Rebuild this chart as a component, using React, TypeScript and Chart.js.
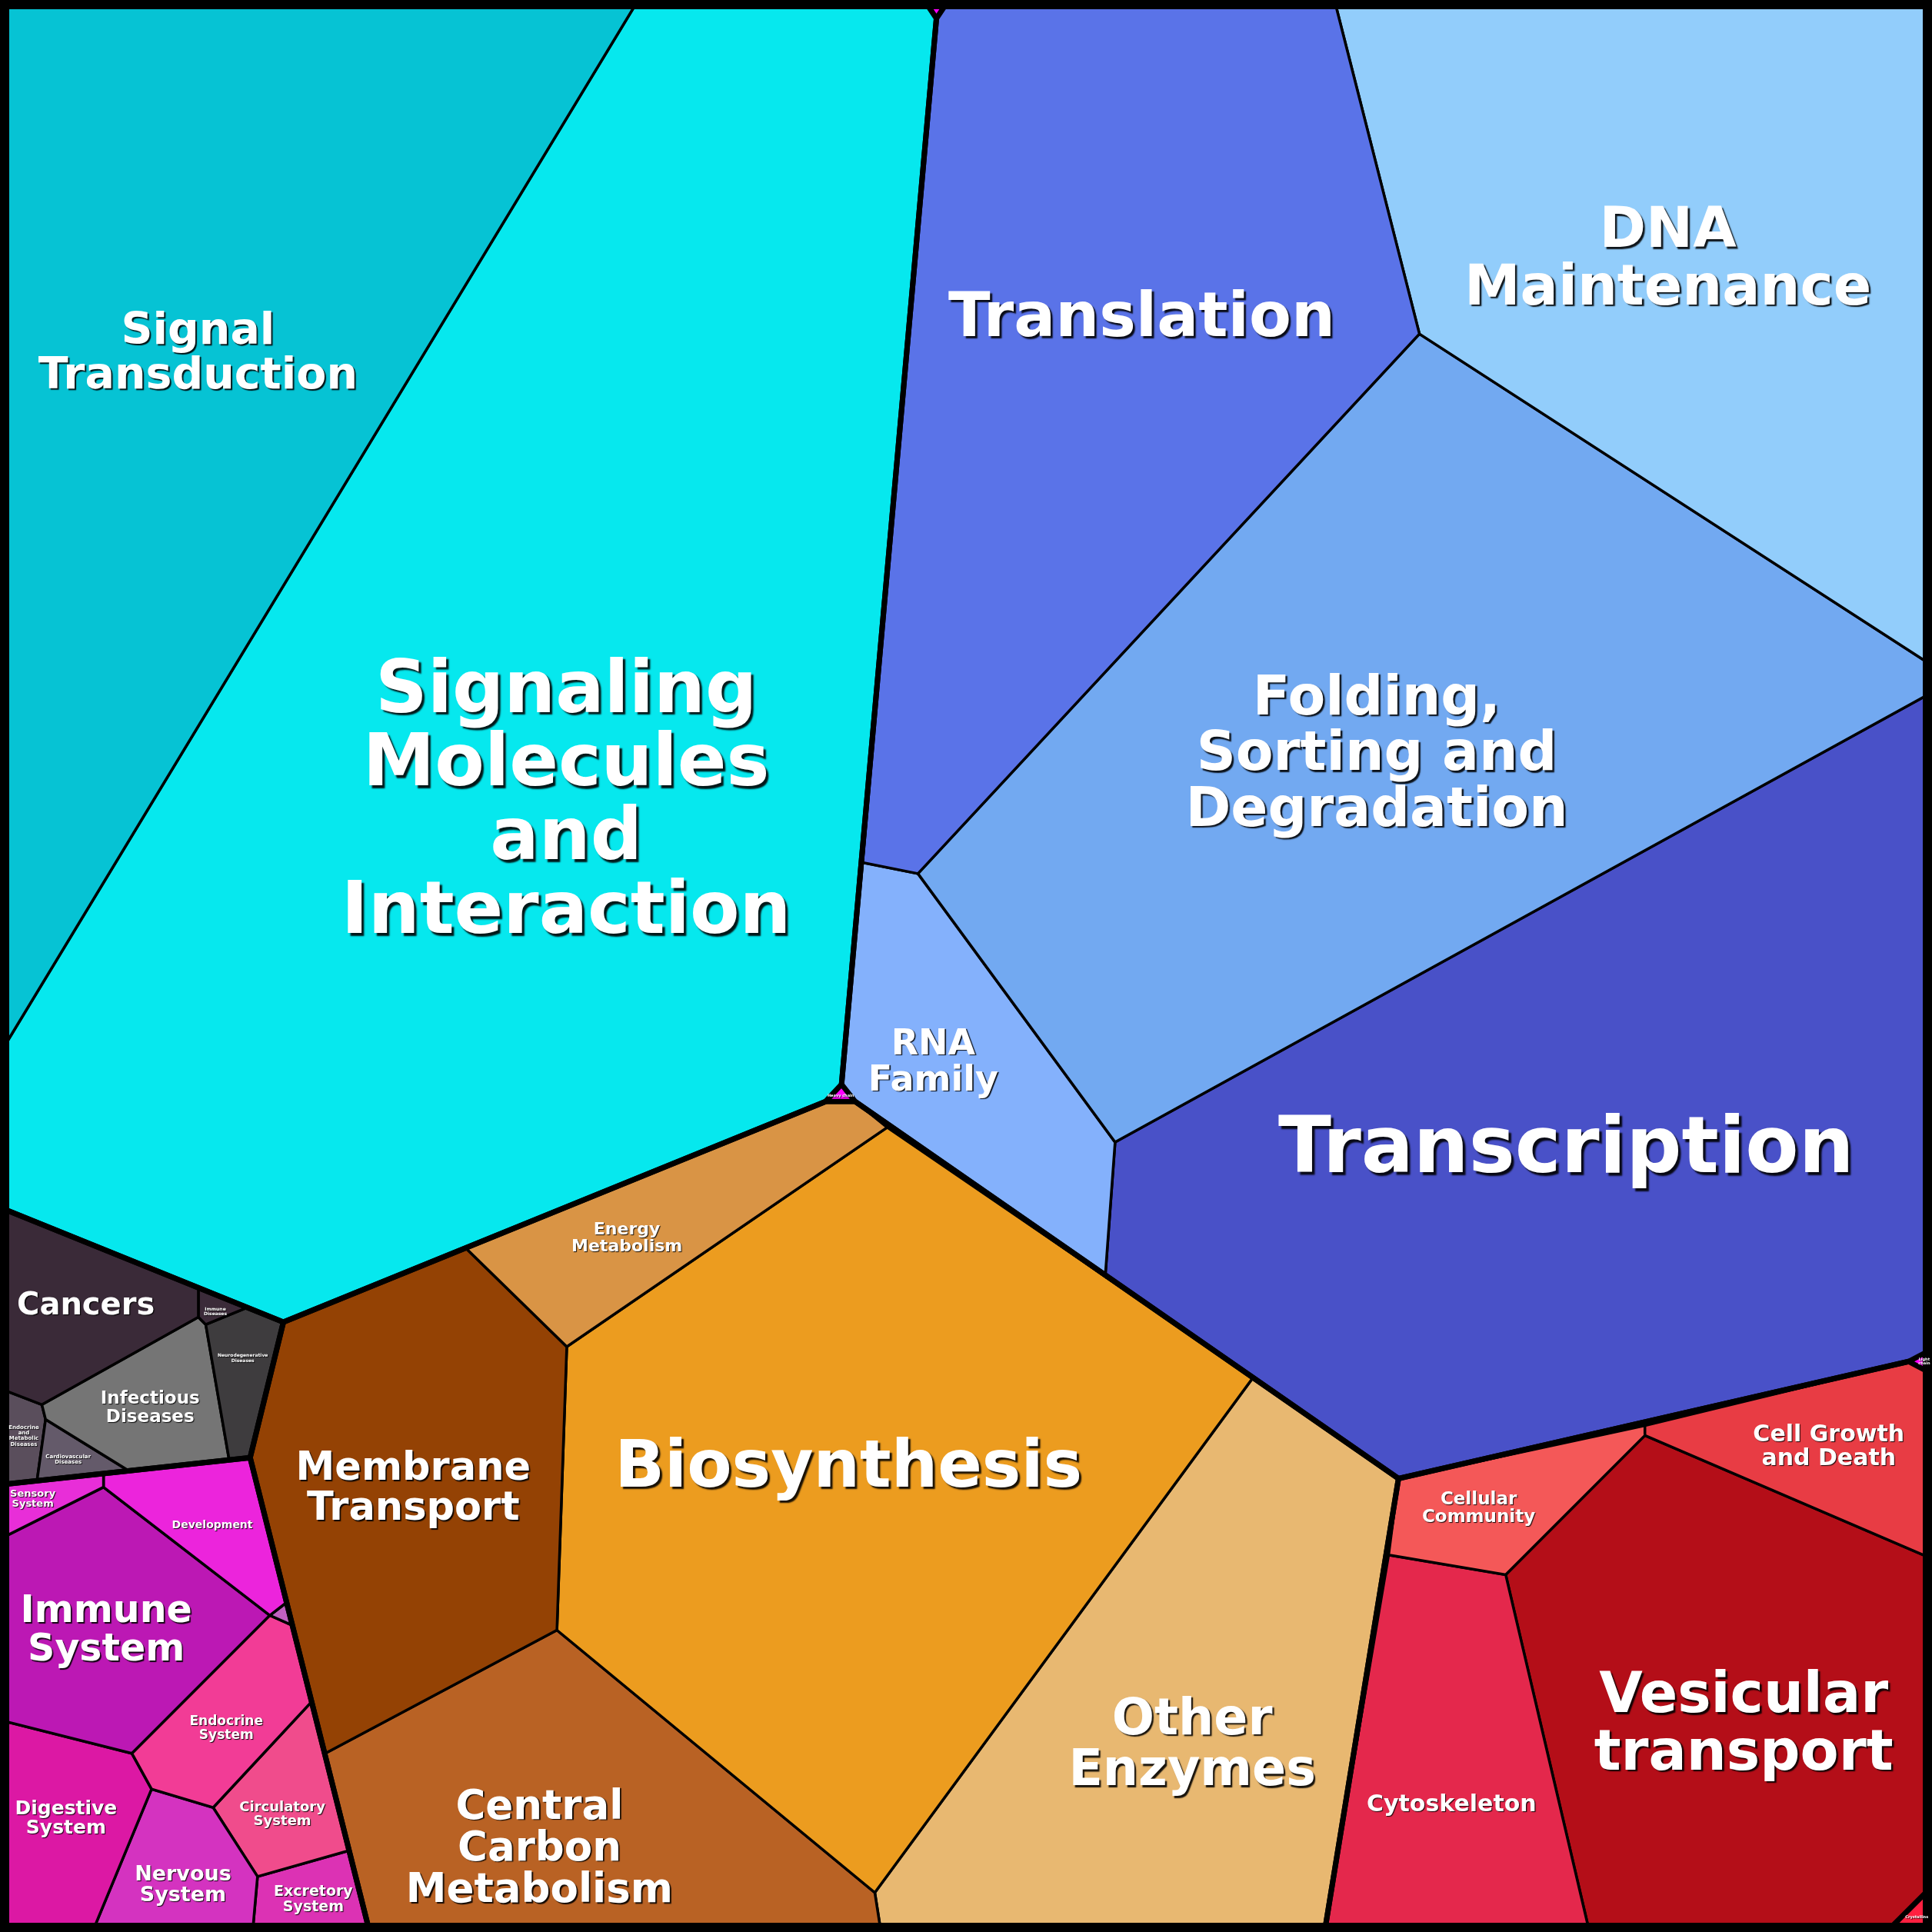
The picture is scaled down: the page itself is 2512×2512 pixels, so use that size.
import React, { useEffect, useRef } from "react";
import { Chart, registerables } from "chart.js";

Chart.register(...registerables);

// ---- Data: Voronoi treemap cells (vertices in 0..1568 map units) ----
const signalTransduction = [[0, 0], [518, 0], [0, 855]];
const signalingMolecules = [[518, 0], [750, 0], [760, 15], [683, 880], [670, 894], [230, 1073], [0, 980], [0, 855]];
const topOther = [[750, 0], [770, 0], [760, 15]];
const heavyChain = [[683, 880], [694, 894], [670, 894]];
const translation = [[760, 15], [770, 0], [1083, 0], [1152, 271], [745, 709], [700, 700]];
const dnaMaintenance = [[1083, 0], [1568, 0], [1568, 540], [1152, 271]];
const folding = [[1152, 271], [1568, 540], [1568, 562], [905, 927], [745, 709]];
const rnaFamily = [[700, 700], [745, 709], [905, 927], [897, 1036], [694, 894], [683, 880]];
const transcription = [[1568, 562], [1568, 1095], [1549, 1105], [1135, 1200], [897, 1036], [905, 927]];
const lightChain = [[1568, 1095], [1568, 1115], [1549, 1105]];

const energyMetabolism = [[378, 1013], [670, 894], [694, 894], [720, 915], [460, 1093]];
const membraneTransport = [[230, 1073], [378, 1013], [460, 1093], [452, 1323], [264, 1423], [203, 1183]];
const biosynthesis = [[720, 915], [1017, 1118], [710, 1536], [452, 1323], [460, 1093]];
const centralCarbon = [[452, 1323], [710, 1536], [715, 1568], [300, 1568], [264, 1423]];
const otherEnzymes = [[1017, 1118], [1135, 1200], [1075, 1568], [715, 1568], [710, 1536]];

const cancers = [[0, 980], [161, 1045], [161, 1069], [34, 1140], [0, 1127]];
const immuneDiseases = [[161, 1045], [201, 1061], [167, 1075], [161, 1069]];
const neurodegenerative = [[201, 1061], [230, 1073], [203, 1183], [186, 1185], [167, 1075]];
const infectious = [[161, 1069], [167, 1075], [186, 1185], [105, 1194], [37, 1152], [34, 1140]];
const cardiovascular = [[37, 1152], [105, 1194], [30, 1202]];
const endoMetabolic = [[0, 1127], [34, 1140], [37, 1152], [30, 1202], [0, 1205]];

const sensory = [[0, 1205], [84, 1196], [84, 1207], [0, 1249]];
const development = [[84, 1196], [203, 1183], [232, 1301], [219, 1311], [84, 1207]];
const tinyOrganismal = [[232, 1301], [237, 1319], [219, 1311]];
const immuneSystem = [[0, 1249], [84, 1207], [219, 1311], [107, 1423], [0, 1396]];
const endocrineSystem = [[219, 1311], [237, 1319], [253, 1381], [173, 1467], [123, 1452], [107, 1423]];
const digestive = [[0, 1396], [107, 1423], [123, 1452], [75, 1568], [0, 1568]];
const nervous = [[123, 1452], [173, 1467], [209, 1523], [205, 1568], [75, 1568]];
const circulatory = [[173, 1467], [253, 1381], [283, 1502], [209, 1523]];
const excretory = [[209, 1523], [283, 1502], [300, 1568], [205, 1568]];

const cellGrowth = [[1549, 1105], [1568, 1115], [1568, 1265], [1335, 1165], [1335, 1157]];
const cellularCommunity = [[1135, 1200], [1335, 1157], [1335, 1165], [1222, 1278], [1127, 1262]];
const cytoskeleton = [[1127, 1262], [1222, 1278], [1290, 1568], [1075, 1568]];
const vesicular = [[1335, 1165], [1568, 1265], [1568, 1531], [1531, 1568], [1290, 1568], [1222, 1278]];
const crystallins = [[1568, 1531], [1568, 1568], [1531, 1568]];

// top-level group outlines
const groupEnvironmental = [[0, 0], [750, 0], [760, 15], [683, 880], [670, 894], [230, 1073], [0, 980]];
const groupGenetic = [[760, 15], [770, 0], [1568, 0], [1568, 1095], [1549, 1105], [1135, 1200], [694, 894], [683, 880]];
const groupMetabolism = [[230, 1073], [670, 894], [694, 894], [1135, 1200], [1075, 1568], [300, 1568], [203, 1183]];
const groupDiseases = [[0, 980], [230, 1073], [203, 1183], [0, 1205]];
const groupOrganismal = [[0, 1205], [203, 1183], [300, 1568], [0, 1568]];
const groupCellular = [[1135, 1200], [1549, 1105], [1568, 1115], [1568, 1531], [1531, 1568], [1075, 1568]];
const frame = [[0, 0], [1568, 0], [1568, 1568], [0, 1568]];

// ---- Cell table: polygon, label, colour; style: label font size (px) and label nudge from centroid ----
const CELLS = [
  { poly: signalTransduction, label: "Signal\nTransduction", color: "#06c3d4", font: 57, nudge: [-12, 3] },
  { poly: signalingMolecules, label: "Signaling\nMolecules\nand\nInteraction", color: "#06e8ee", font: 94, nudge: [27, 71] },
  { poly: topOther, label: "", color: "#ff00ff", font: 5, nudge: [0, 0] },
  { poly: heavyChain, label: "Heavy chain", color: "#ff00ff", font: 5, nudge: [0, 0] },
  { poly: translation, label: "Translation", color: "#5a73e8", font: 80, nudge: [28, -27] },
  { poly: dnaMaintenance, label: "DNA\nMaintenance", color: "#92cdfb", font: 73, nudge: [-16, 8] },
  { poly: folding, label: "Folding,\nSorting and\nDegradation", color: "#72a9f1", font: 71, nudge: [-10, 14] },
  { poly: rnaFamily, label: "RNA\nFamily", color: "#84b1fc", font: 46, nudge: [-29, -5] },
  { poly: transcription, label: "Transcription", color: "#4951c8", font: 101, nudge: [-18, 5] },
  { poly: lightChain, label: "Light\nchain", color: "#ff00ff", font: 5, nudge: [0, 0] },
  { poly: energyMetabolism, label: "Energy\nMetabolism", color: "#d99445", font: 22, nudge: [-30, 16] },
  { poly: membraneTransport, label: "Membrane\nTransport", color: "#944204", font: 51, nudge: [0, 2] },
  { poly: biosynthesis, label: "Biosynthesis", color: "#ec9c1f", font: 85, nudge: [-13, -13] },
  { poly: centralCarbon, label: "Central\nCarbon\nMetabolism", color: "#b96224", font: 53, nudge: [-25, 26] },
  { poly: otherEnzymes, label: "Other\nEnzymes", color: "#e8b871", font: 65, nudge: [8, 27] },
  { poly: cancers, label: "Cancers", color: "#3a2a38", font: 40, nudge: [8, -2] },
  { poly: immuneDiseases, label: "Immune\nDiseases", color: "#3b2b39", font: 6, nudge: [0, 4] },
  { poly: neurodegenerative, label: "Neurodegenerative\nDiseases", color: "#3e3c3e", font: 6, nudge: [0, -12] },
  { poly: infectious, label: "Infectious\nDiseases", color: "#757575", font: 23, nudge: [0, 2] },
  { poly: cardiovascular, label: "Cardiovascular\nDiseases", color: "#645a6a", font: 7, nudge: [-2, 2] },
  { poly: endoMetabolic, label: "Endocrine\nand\nMetabolic\nDiseases", color: "#5a4e5c", font: 7, nudge: [3, -2] },
  { poly: sensory, label: "Sensory\nSystem", color: "#e82ed8", font: 13, nudge: [-7, 0] },
  { poly: development, label: "Development", color: "#ec24dc", font: 14, nudge: [2, 4] },
  { poly: tinyOrganismal, label: "", color: "#c060c0", font: 3, nudge: [0, 0] },
  { poly: immuneSystem, label: "Immune\nSystem", color: "#bc18b4", font: 49, nudge: [-2, 6] },
  { poly: endocrineSystem, label: "Endocrine\nSystem", color: "#f23c96", font: 17, nudge: [-2, 8] },
  { poly: digestive, label: "Digestive\nSystem", color: "#dc18a4", font: 25, nudge: [3, -7] },
  { poly: nervous, label: "Nervous\nSystem", color: "#d433c0", font: 27, nudge: [2, 9] },
  { poly: circulatory, label: "Circulatory\nSystem", color: "#f04c8c", font: 18, nudge: [-3, 9] },
  { poly: excretory, label: "Excretory\nSystem", color: "#dc32b4", font: 19, nudge: [2, 1] },
  { poly: cellGrowth, label: "Cell Growth\nand Death", color: "#e83c44", font: 30, nudge: [-2, -1] },
  { poly: cellularCommunity, label: "Cellular\nCommunity", color: "#f45858", font: 23, nudge: [-17, 5] },
  { poly: cytoskeleton, label: "Cytoskeleton", color: "#e4284c", font: 30, nudge: [0, 27] },
  { poly: vesicular, label: "Vesicular\ntransport", color: "#b40e18", font: 73, nudge: [10, 18] },
  { poly: crystallins, label: "Crystallins", color: "#ff2040", font: 5, nudge: [0, 0] },
];

const GROUPS = [groupEnvironmental, groupGenetic, groupMetabolism, groupDiseases, groupOrganismal, groupCellular];

const toPoints = (poly: number[][]) => {
  const pts = poly.map(([x, y]) => ({ x, y }));
  pts.push({ x: poly[0][0], y: poly[0][1] });
  return pts;
};

const centroid = (poly: number[][]) => {
  let a = 0, cx = 0, cy = 0;
  for (let i = 0; i < poly.length; i++) {
    const [x0, y0] = poly[i];
    const [x1, y1] = poly[(i + 1) % poly.length];
    const c = x0 * y1 - x1 * y0;
    a += c;
    cx += (x0 + x1) * c;
    cy += (y0 + y1) * c;
  }
  a *= 0.5;
  return [cx / (6 * a), cy / (6 * a)];
};

const labelPlugin = {
  id: "cellLabels",
  afterDatasetsDraw(chart: any) {
    const ctx = chart.ctx;
    const xs = chart.scales.x;
    const ys = chart.scales.y;
    CELLS.forEach((cell) => {
      if (!cell.label) return;
      const [cx, cy] = centroid(cell.poly);
      const px = xs.getPixelForValue(cx + cell.nudge[0]);
      const py = ys.getPixelForValue(cy + cell.nudge[1]);
      const size = cell.font;
      const lines = cell.label.split("\n");
      const lh = size * 1.02;
      ctx.save();
      ctx.font = `bold ${size}px "DejaVu Sans"`;
      ctx.textAlign = "center";
      ctx.textBaseline = "middle";
      ctx.fillStyle = "#ffffff";
      ctx.shadowColor = "rgba(0,0,0,0.9)";
      const off = Math.max(1, size * 0.035);
      ctx.shadowOffsetX = off;
      ctx.shadowOffsetY = off;
      ctx.shadowBlur = Math.max(1, size * 0.02);
      const start = py - ((lines.length - 1) * lh) / 2;
      lines.forEach((l, i) => ctx.fillText(l, px, start + i * lh));
      ctx.restore();
    });
  },
};

export default function App() {
  const ref = useRef<HTMLCanvasElement | null>(null);

  useEffect(() => {
    if (!ref.current) return;
    const datasets: any[] = [];
    CELLS.forEach((cell) => {
      datasets.push({
        data: toPoints(cell.poly),
        showLine: true,
        fill: "shape",
        backgroundColor: cell.color,
        borderColor: "#000000",
        borderWidth: 3.5,
        borderJoinStyle: "miter",
        pointRadius: 0,
        pointHoverRadius: 0,
        tension: 0,
        order: 2,
      });
    });
    GROUPS.forEach((g) => {
      datasets.push({
        data: toPoints(g),
        showLine: true,
        fill: false,
        borderColor: "#000000",
        borderWidth: 7,
        borderJoinStyle: "miter",
        pointRadius: 0,
        pointHoverRadius: 0,
        tension: 0,
        order: 1,
      });
    });
    datasets.push({
      data: toPoints(frame),
      showLine: true,
      fill: false,
      borderColor: "#000000",
      borderWidth: 24,
      pointRadius: 0,
      pointHoverRadius: 0,
      tension: 0,
      clip: false,
      order: 0,
    });

    const chart = new Chart(ref.current, {
      type: "scatter",
      data: { datasets },
      options: {
        responsive: false,
        animation: false,
        devicePixelRatio: 1,
        events: [],
        layout: { padding: 0 },
        plugins: { legend: { display: false }, tooltip: { enabled: false }, title: { display: false } },
        scales: {
          x: { type: "linear", min: 0, max: 1568, display: false },
          y: { type: "linear", min: 0, max: 1568, reverse: true, display: false },
        },
      },
      plugins: [labelPlugin],
    });
    return () => chart.destroy();
  }, []);

  return (
    <div style={{ position: "fixed", left: 0, top: 0, width: 2512, height: 2512, background: "#ffffff" }}>
      <canvas ref={ref} width={2512} height={2512} style={{ display: "block", width: 2512, height: 2512 }} />
    </div>
  );
}
